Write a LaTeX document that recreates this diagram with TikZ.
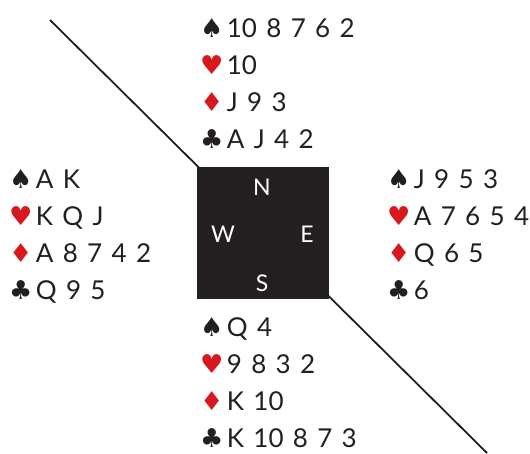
\documentclass[tikz,border=0pt]{standalone}
\usepackage{fontspec}
\setmainfont{Lato}[WordSpace=1.4]
\newfontfamily\suitfont{DejaVu Sans}
\definecolor{ink}{HTML}{231F20}
\definecolor{suitred}{HTML}{D7191F}

\begin{document}
\begin{tikzpicture}[x=1pt,y=-1pt]

  \tikzset{
    suit/.style={anchor=base west, inner sep=0pt, font=\suitfont\fontsize{26}{26}\selectfont},
    cards/.style={anchor=base west, inner sep=0pt, text=ink, font=\fontsize{26}{26}\selectfont},
    compass/.style={text=white, font=\fontsize{23}{23}\selectfont}
  }

  \useasboundingbox (0,0) rectangle (530,453);

  % Diagonal
  \coordinate (tl) at (50,20);
  \coordinate (br) at (487,453);
  \draw[line width=1.8pt, ink] (tl) -- (br);

  % Table
  \node[fill=ink, minimum size=132pt, inner sep=0pt] (table) at (263,233) {};
  \node[compass] (n) at (262,187) {N};
  \node[compass] (w) at (223,234) {W};
  \node[compass] (e) at (307,234) {E};
  \node[compass] (s) at (262,283) {S};

  % Hands
  \foreach \hd/\x/\y/\sp/\he/\di/\cl in {
    north/200/37/10 8 7 6 2/10/J 9 3/A J 4 2,
    west/9/188/A K/K Q J/A 8 7 4 2/Q 9 5,
    east/387/188/J 9 5 3/A 7 6 5 4/Q 6 5/6,
    south/200/336/Q 4/9 8 3 2/K 10/K 10 8 7 3} {
    \foreach \k/\sym/\col/\hold in {0/♠/ink/\sp, 1/♥/suitred/\he, 2/♦/suitred/\di, 3/♣/ink/\cl} {
      \node[suit, text=\col] (\hd-\k) at (\x,{\y+37.2*\k}) {\sym};
      \node[cards] (\hd-\k-c) at ([xshift=3pt]\hd-\k.base east) {\hold};
    }
  }

\end{tikzpicture}
\end{document}
